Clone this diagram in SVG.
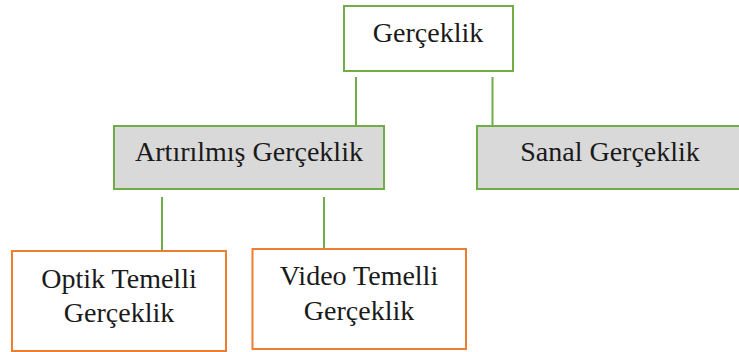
<svg xmlns="http://www.w3.org/2000/svg" width="739" height="352" viewBox="0 0 739 352">
  <style>
    .box-green { fill: #ffffff; stroke: #70ad47; stroke-width: 2; }
    .box-gray { fill: #d9d9d9; stroke: #70ad47; stroke-width: 2; }
    .box-orange { fill: #ffffff; stroke: #ed7d31; stroke-width: 2; }
    .link { stroke: #70ad47; stroke-width: 2; fill: none; }
    .label { font-family: "Liberation Serif", "Times New Roman", serif; font-size: 28px; fill: #1a1a1a; text-anchor: middle; }
  </style>
  <rect width="739" height="352" fill="#ffffff"/>

  <!-- tree connectors -->
  <g id="connectors">
    <line class="link" x1="356" y1="77" x2="356" y2="127"/>
    <line class="link" x1="492.5" y1="77" x2="492.5" y2="127"/>
    <line class="link" x1="162" y1="197" x2="162" y2="251"/>
    <line class="link" x1="324" y1="197" x2="324" y2="250"/>
  </g>

  <g id="node-gerceklik">
    <rect class="box-green" x="344" y="6" width="169" height="65"/>
    <text class="label" x="428" y="42">Gerçeklik</text>
  </g>

  <g id="node-artirilmis">
    <rect class="box-gray" x="114" y="126" width="270" height="63"/>
    <text class="label" x="249" y="161">Artırılmış Gerçeklik</text>
  </g>

  <g id="node-sanal">
    <rect class="box-gray" x="477" y="126" width="268" height="63"/>
    <text class="label" x="610" y="161">Sanal Gerçeklik</text>
  </g>

  <g id="node-optik">
    <rect class="box-orange" x="12" y="251" width="214" height="100"/>
    <text class="label" x="119" y="288">Optik Temelli</text>
    <text class="label" x="119" y="322">Gerçeklik</text>
  </g>

  <g id="node-video">
    <rect class="box-orange" x="252.5" y="249" width="213.5" height="100"/>
    <text class="label" x="359" y="285">Video Temelli</text>
    <text class="label" x="359" y="320">Gerçeklik</text>
  </g>
</svg>
